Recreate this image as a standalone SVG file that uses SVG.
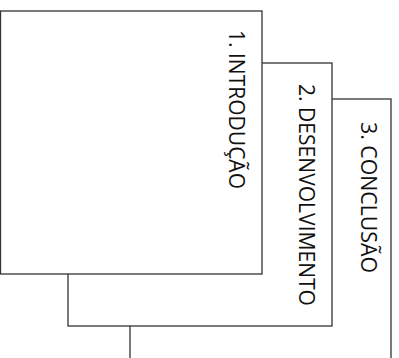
<svg xmlns="http://www.w3.org/2000/svg" width="399" height="358" viewBox="0 0 399 358">
<style>
.box{fill:#fff;stroke:#333;stroke-width:1.3}
.lbl{font-family:"Open Sans","Noto Sans","Liberation Sans",sans-serif;font-size:21px;fill:#111}
</style>
<rect width="399" height="358" fill="#fff"/>
<g id="conclusao">
<rect class="box" x="130" y="99" width="261" height="270"/>
<text class="lbl" transform="translate(360.5,122) rotate(90)" textLength="151" lengthAdjust="spacingAndGlyphs">3. CONCLUSÃO</text>
</g>
<g id="desenvolvimento">
<rect class="box" x="68" y="63" width="264" height="263"/>
<text class="lbl" transform="translate(298.5,84) rotate(90)" textLength="222" lengthAdjust="spacingAndGlyphs">2. DESENVOLVIMENTO</text>
</g>
<g id="introducao">
<rect class="box" x="0.5" y="11" width="261.5" height="263"/>
<text class="lbl" transform="translate(228.5,30) rotate(90)" textLength="159" lengthAdjust="spacingAndGlyphs">1. INTRODUÇÃO</text>
</g>
</svg>
